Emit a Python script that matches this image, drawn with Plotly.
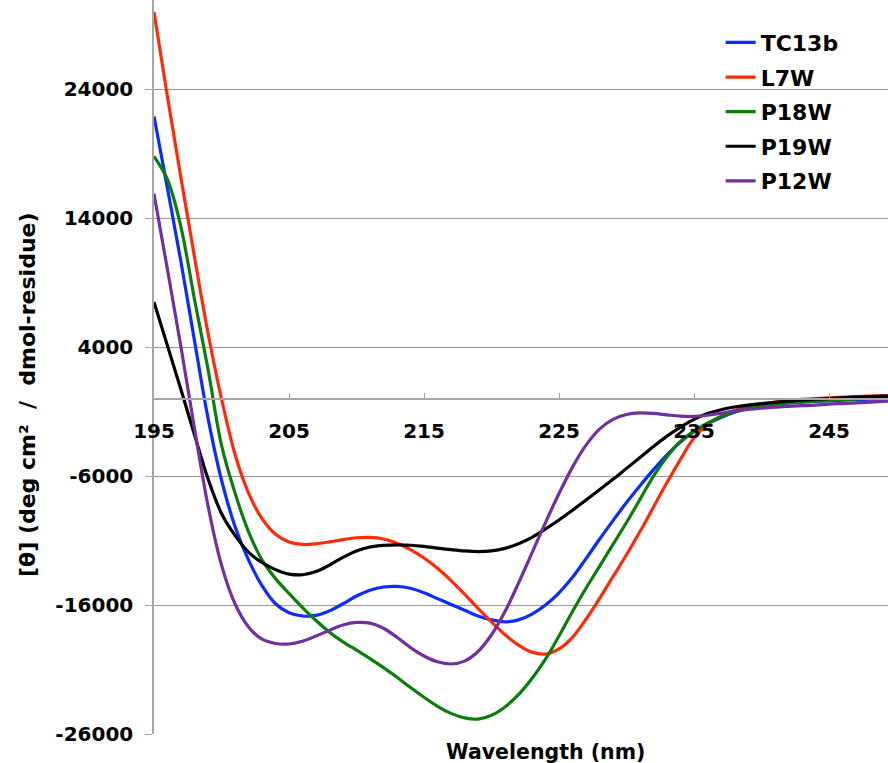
import plotly.graph_objects as go

# Far-UV circular dichroism spectra, mean residue ellipticity vs wavelength
wavelength = list(range(195, 251))

tc13b = [21900, 16300, 10600, 4500, -1500, -6300, -9900, -12500, -14500, -15900,
         -16600, -16850, -16800, -16450, -15900, -15300, -14850, -14600, -14550, -14700,
         -15050, -15500, -15950, -16400, -16850, -17150, -17300, -17150, -16700, -16000,
         -15050, -13850, -12400, -10900, -9450, -8050, -6750, -5500, -4350, -3350,
         -2550, -1950, -1450, -1050, -750, -550, -420, -330, -260, -200,
         -150, -110, -70, -40, -10, 10]

l7w = [30000, 23400, 17100, 11000, 5100, 0, -4300, -7300, -9300, -10500,
       -11100, -11300, -11250, -11100, -10920, -10780, -10750, -10880, -11200, -11700,
       -12350, -13150, -14100, -15150, -16250, -17300, -18300, -19100, -19650, -19800,
       -19400, -18500, -17100, -15500, -13800, -12100, -10300, -8400, -6500, -4700,
       -3050, -2000, -1350, -920, -630, -420, -260, -140, -50, 20,
       80, 130, 170, 200, 220, 230]

p18w = [18800, 17000, 13300, 7700, 2300, -3600, -7300, -10300, -12500, -13950,
        -15100, -16200, -17200, -18100, -18850, -19500, -20150, -20850, -21600, -22400,
        -23150, -23850, -24400, -24750, -24850, -24550, -23900, -22950, -21700, -20200,
        -18400, -16500, -14700, -13000, -11300, -9600, -7800, -6000, -4500, -3300,
        -2500, -1900, -1400, -1000, -720, -540, -420, -330, -250, -180,
        -120, -60, -10, 30, 60, 80]

p19w = [7500, 4100, 700, -2800, -6200, -8900, -10600, -11900, -12700, -13250,
        -13600, -13650, -13400, -12900, -12300, -11800, -11500, -11370, -11330, -11360,
        -11450, -11580, -11700, -11800, -11850, -11800, -11600, -11250, -10750, -10100,
        -9400, -8650, -7850, -7050, -6250, -5400, -4550, -3700, -2900, -2200,
        -1600, -1150, -850, -640, -490, -380, -280, -190, -110, -40,
        20, 80, 130, 170, 200, 220]

p12w = [15900, 10000, 4000, -2300, -8300, -12900, -15900, -17700, -18650, -18980,
        -19020, -18800, -18400, -17950, -17550, -17350, -17400, -17800, -18500, -19300,
        -19950, -20400, -20570, -20350, -19600, -18300, -16500, -14300, -11950, -9600,
        -7350, -5300, -3600, -2350, -1600, -1220, -1100, -1140, -1250, -1350,
        -1370, -1280, -1120, -960, -830, -730, -650, -590, -540, -490,
        -420, -370, -320, -260, -200, -170]

series = [
    ("TC13b", tc13b, "#0a2cff"),
    ("L7W", l7w, "#ff2a0a"),
    ("P18W", p18w, "#0b7d0b"),
    ("P19W", p19w, "#000000"),
    ("P12W", p12w, "#7030a0"),
]

x_ticks = [195, 205, 215, 225, 235, 245]
y_ticks = [-26000, -16000, -6000, 4000, 14000, 24000]

FONT = "DejaVu Sans"
W, H = 888, 763
M_L, M_R, M_T, M_B = 154, 0, 0, 29
PLOT_W = W - M_L - M_R
PLOT_H = H - M_T - M_B

y_min, y_max = -26000, 30926
x_min, x_max = 195, 249.37

fig = go.Figure()
for name, vals, color in series:
    fig.add_trace(go.Scatter(
        x=wavelength, y=vals, name=name, mode="lines", legendgroup=name,
        line=dict(color=color, width=3.2, shape="spline", smoothing=1.0),
    ))

# the wavelength axis crosses the ordinate at zero
zero_pos = (0 - y_min) / (y_max - y_min)

fig.update_layout(
    width=W, height=H,
    margin=dict(l=M_L, r=M_R, t=M_T, b=M_B),
    paper_bgcolor="white", plot_bgcolor="white",
    font=dict(family=FONT, color="black"),
    showlegend=True,
    legend=dict(
        x=0.772, y=0.9705, xanchor="left", yanchor="top",
        bgcolor="rgba(0,0,0,0)", borderwidth=0,
        font=dict(family=FONT, size=22, color="black", weight="bold"),
        itemwidth=30, tracegroupgap=3,
    ),
    xaxis=dict(
        range=[x_min, x_max], anchor="free", position=zero_pos,
        tickvals=x_ticks, ticktext=[str(v) for v in x_ticks],
        showgrid=False, zeroline=False,
        showline=True, linecolor="#a6a6a6", linewidth=1.5,
        ticks="inside", ticklen=5, tickcolor="#a6a6a6", tickwidth=1,
        tickfont=dict(family=FONT, size=20, color="black", weight="bold"),
        ticklabelstandoff=14,
    ),
    yaxis=dict(
        range=[y_min, y_max],
        tickvals=y_ticks, ticktext=[str(v) for v in y_ticks],
        showgrid=True, gridcolor="#9a9a9a", gridwidth=1,
        zeroline=False,
        showline=True, linecolor="#a6a6a6", linewidth=1.5,
        ticks="outside", ticklen=7, tickcolor="#a6a6a6", tickwidth=1,
        tickfont=dict(family=FONT, size=20, color="black", weight="bold"),
        ticklabelstandoff=8,
    ),
    annotations=[
        dict(
            text="Wavelength (nm)", xref="paper", yref="paper",
            x=(545 - M_L) / PLOT_W, y=-(751.5 - PLOT_H) / PLOT_H,
            xanchor="center", yanchor="middle", showarrow=False,
            font=dict(family=FONT, size=20.5, color="black", weight="bold"),
        ),
        dict(
            text="[θ] (deg cm²\u00a0 /\u00a0 dmol-residue)", xref="paper", yref="paper",
            x=(27 - M_L) / PLOT_W, y=(PLOT_H - 395) / PLOT_H,
            xanchor="center", yanchor="middle", showarrow=False,
            textangle=-90,
            font=dict(family=FONT, size=22, color="black", weight="bold"),
        ),
    ],
)

fig.write_html("out.html")
